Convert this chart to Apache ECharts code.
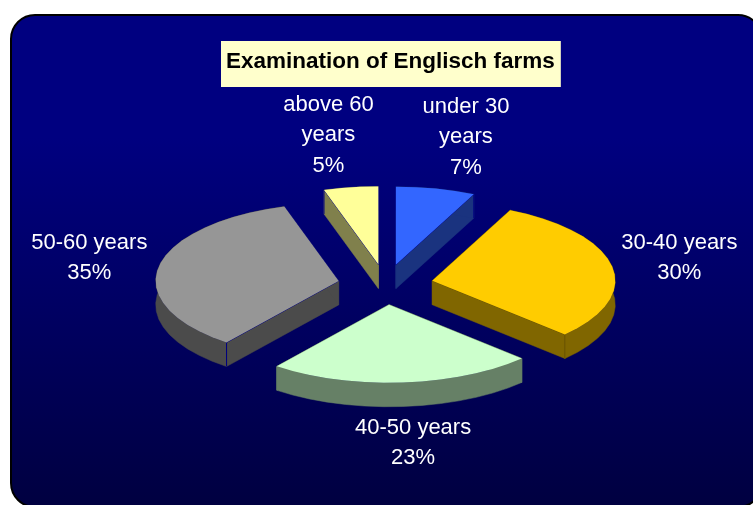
<!DOCTYPE html>
<html><head><meta charset="utf-8">
<style>html,body{margin:0;padding:0;background:#fff}#c{width:753px;height:505px}</style>
<script src="https://cdn.jsdelivr.net/npm/echarts@6/dist/echarts.min.js"></script>
</head><body><div id="c"></div>
<script>
const titleText = 'Examination of Englisch farms';
const categories = ['under 30\nyears', '30-40 years', '40-50 years', '50-60 years', 'above 60\nyears'];
const shares = [7, 30.1, 23.4, 34.7, 4.8];
const topColors = ['#3366FF', '#FFCC00', '#CCFFCC', '#969696', '#FFFF99'];
const wallColors = ['#1A337F', '#806600', '#668066', '#4B4B4B', '#80804C'];
const edgeColors = ['#000080', '#6B5500', '#668066', '#000080', '#000080'];
const labelNudgeX = [15, -1, 5, -1, -12];
const labelNudgeY = [-1, 1, 9, 0, -1];
const CX = 385.5, CY = 284.5, RX = 183, RY = 78, DEPTH = 24, EXPLODE = 0.26;
const LABEL_RX = 300, LABEL_RY = 150;
const total = shares.reduce((a, b) => a + b, 0);

function renderSlice(params, api) {
  const i = params.dataIndex;
  const value = api.value(0);
  let before = 0;
  for (let k = 0; k < i; k++) before += shares[k];
  const t0 = before / total * Math.PI * 2;
  const t1 = (before + value) / total * Math.PI * 2;
  const mid = (t0 + t1) / 2;
  const ox = CX + EXPLODE * RX * Math.sin(mid);
  const oy = CY - EXPLODE * RY * Math.cos(mid);
  const rim = [];
  const n = Math.max(2, Math.round((t1 - t0) / (Math.PI / 30)));
  for (let s = 0; s <= n; s++) {
    const t = t0 + (t1 - t0) * s / n;
    rim.push([ox + RX * Math.sin(t), oy - RY * Math.cos(t)]);
  }
  const down = p => [p[0], p[1] + DEPTH];
  const apex = [ox, oy];
  const wall = pts => ({
    type: 'polygon',
    shape: { points: pts },
    style: { fill: wallColors[i], stroke: wallColors[i], lineWidth: 0.5 }
  });
  const children = [];
  children.push(wall([apex, rim[0], down(rim[0]), down(apex)]));
  children.push(wall([apex, rim[n], down(rim[n]), down(apex)]));
  children.push(wall(rim.concat(rim.map(down).reverse())));
  const endA = rim[0], endB = rim[n];
  [[apex, endA], [apex, endB], [endA, down(endA)], [endB, down(endB)]].forEach(seg => {
    children.push({
      type: 'polyline',
      shape: { points: seg },
      style: { fill: null, stroke: edgeColors[i], lineWidth: 1 }
    });
  });
  children.push({
    type: 'polygon',
    shape: { points: [apex].concat(rim) },
    style: { fill: topColors[i] }
  });
  children.push({
    type: 'text',
    style: {
      x: CX + LABEL_RX * Math.sin(mid) + labelNudgeX[i],
      y: CY - LABEL_RY * Math.cos(mid) + labelNudgeY[i],
      text: categories[i] + '\n' + Math.round(value) + '%',
      fill: '#fff',
      font: '22px "Liberation Sans", Arial, sans-serif',
      lineHeight: 30.5,
      align: 'center',
      verticalAlign: 'middle'
    }
  });
  return { type: 'group', children };
}

const chart = echarts.init(document.getElementById('c'), null, { renderer: 'canvas' });
chart.setOption({
  animation: false,
  backgroundColor: '#fff',
  title: {
    text: titleText,
    left: 221, top: 41,
    backgroundColor: '#FFFFCC',
    padding: [8, 6, 13, 5],
    textStyle: { color: '#000', fontFamily: '"Liberation Sans", Arial, sans-serif', fontWeight: 'bold', fontSize: 22.5, lineHeight: 25 }
  },
  graphic: [{
    type: 'rect', z: -10, silent: true,
    shape: { x: 11, y: 15, width: 751, height: 492, r: 24 },
    style: {
      stroke: '#000', lineWidth: 2,
      fill: { type: 'linear', x: 0, y: 0, x2: 0, y2: 1, colorStops: [
        { offset: 0, color: '#000080' }, { offset: 0.25, color: '#000080' }, { offset: 1, color: '#000040' }
      ] }
    }
  }],
  series: [{
    type: 'custom',
    coordinateSystem: 'none',
    renderItem: renderSlice,
    data: shares.map(v => [v])
  }]
});
</script></body></html>
